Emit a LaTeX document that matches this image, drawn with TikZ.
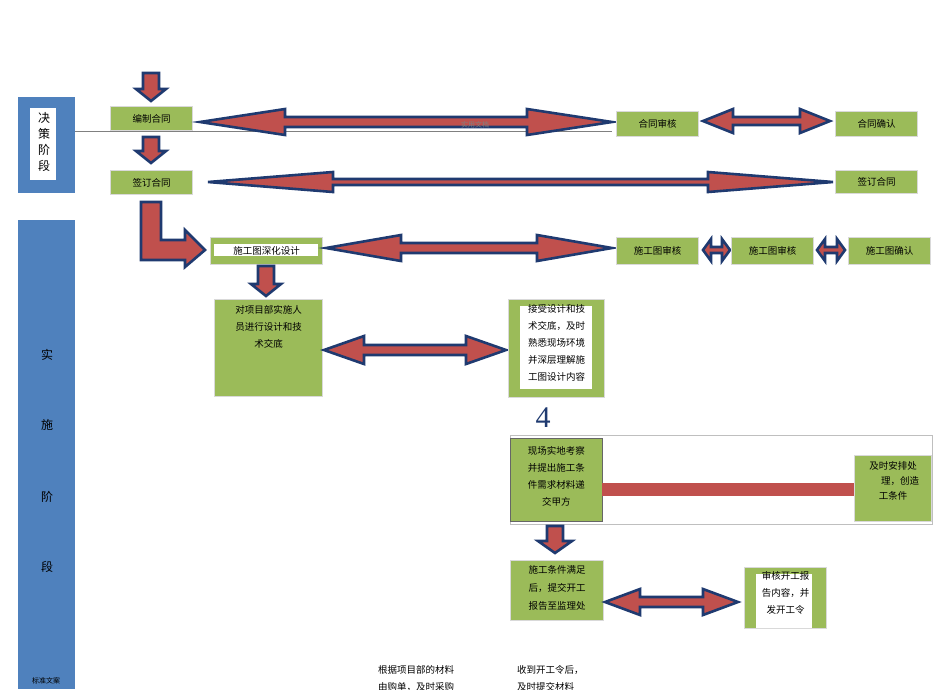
\documentclass[tikz,border=0pt]{standalone}
\usepackage{fontspec}
\setmainfont{Noto Sans CJK SC}
\newfontfamily\serifd{Liberation Serif}
\usetikzlibrary{calc}
\definecolor{gr}{HTML}{9BBB59}
\definecolor{rd}{HTML}{C0504D}
\definecolor{nv}{HTML}{1F3A70}
\definecolor{bl}{HTML}{4F81BD}
\tikzset{fat/.style={fill=rd,draw=nv,line width=2.6pt,line join=miter},
 gbox/.style={fill=gr,draw=black!15,line width=1pt},
 t/.style={font=\fontsize{9.5}{12}\selectfont,align=center,inner sep=0pt}}
\newcommand\harrow[6]{\filldraw[fat] (#1,#3) -- ({#1+#6},{#3-#5}) -- ({#1+#6},{#3-#4}) -- ({#2-#6},{#3-#4}) -- ({#2-#6},{#3-#5}) -- (#2,#3) -- ({#2-#6},{#3+#5}) -- ({#2-#6},{#3+#4}) -- ({#1+#6},{#3+#4}) -- ({#1+#6},{#3+#5}) -- cycle;}
\newcommand\darrow[6]{\filldraw[fat] (#1,#3) -- ({#1-#5},{#3-#6}) -- ({#1-#4},{#3-#6}) -- ({#1-#4},#2) -- ({#1+#4},#2) -- ({#1+#4},{#3-#6}) -- ({#1+#5},{#3-#6}) -- cycle;}
\begin{document}
\begin{tikzpicture}[x=1pt,y=-1pt]
\clip (0,0) rectangle (950,689);
\useasboundingbox (0,0) rectangle (950,689);
\fill[white] (0,0) rectangle (950,689);
% left bars
\fill[bl] (18,97) rectangle (75,193);
\fill[white] (30,108) rectangle (56,172);
\node[t,font=\fontsize{12}{16}\selectfont] (jc) at (44,142) {决\\策\\阶\\段};
\fill[white] (30,172) rectangle (56,180);
\fill[bl] (18,220) rectangle (75,689);
\node[t,font=\fontsize{12}{15}\selectfont] (s1) at (47,355) {实};
\node[t,font=\fontsize{12}{15}\selectfont] (s2) at (47,425) {施};
\node[t,font=\fontsize{12}{15}\selectfont] (s3) at (47,497) {阶};
\node[t,font=\fontsize{12}{15}\selectfont] (s4) at (47,567) {段};
\node[t,font=\fontsize{7}{8}\selectfont] (bz) at (46,681) {标准文案};
\draw[gray] (75,131) -- (612,131);
% row 1
\darrow{151}{73}{101}{8}{15}{12}
\node[gbox,minimum width=82,minimum height=24,anchor=north west,t] (a1) at (110,106) {编制合同};
\darrow{151}{137}{163}{8}{15}{12}
\node[gbox,minimum width=82,minimum height=24,anchor=north west,t] (a2) at (110,170) {签订合同};
\harrow{200}{612}{122}{5}{13}{85}
\node[t,font=\fontsize{7}{8}\selectfont,gray] (sy) at (475,125) {实用文档};
\node[gbox,minimum width=82,minimum height=25,anchor=north west,t] (b1) at (616,111) {合同审核};
\harrow{703}{830}{121}{4}{12}{30}
\node[gbox,minimum width=82,minimum height=25,anchor=north west,t] (c1) at (835,111) {合同确认};
% row 2
\harrow{208}{833}{182}{3}{10}{125}
\node[gbox,minimum width=82,minimum height=23,anchor=north west,t] (c2) at (835,170) {签订合同};
% L arrow
\filldraw[fat] (141,202) -- (161,202) -- (161,240) -- (185,240) -- (185,230) -- (205,250) -- (185,267) -- (185,260) -- (141,260) -- cycle;
\node[gbox,minimum width=112,minimum height=27,anchor=north west] (d1) at (210,237) {};
\fill[white] (214,244) rectangle (318,256);
\node[t] at (d1) {施工图深化设计};
\harrow{326}{612}{248}{5}{13}{75}
\node[gbox,minimum width=82,minimum height=27,anchor=north west,t] (e1) at (616,237) {施工图审核};
\harrow{703}{730}{250}{3}{11}{8}
\node[gbox,minimum width=82,minimum height=27,anchor=north west,t] (e2) at (731,237) {施工图审核};
\harrow{817}{845}{250}{3}{11}{8}
\node[gbox,minimum width=82,minimum height=27,anchor=north west,t] (e3) at (848,237) {施工图确认};
% row 4
\darrow{266}{266}{296}{8}{15}{12}
\node[gbox,minimum width=108,minimum height=97,anchor=north west] (f1) at (214,299) {};
\node[t,anchor=north,font=\fontsize{9.5}{17}\selectfont] at ($(f1.north)+(0,6)$) {对项目部实施人\\员进行设计和技\\术交底};
\harrow{324}{506}{350}{5}{14}{40}
\node[gbox,minimum width=96,minimum height=98,anchor=north west] (g1) at (508,299) {};
\fill[white] (520,306) rectangle (592,389);
\node[t,anchor=north,font=\fontsize{9.5}{17}\selectfont] at ($(g1.north)+(0,5)$) {接受设计和技\\术交底，及时\\熟悉现场环境\\并深层理解施\\工图设计内容};
\node[t,font=\fontsize{30}{30}\serifd\selectfont,text=nv] (four) at (543,418) {4};
% row 5
\draw[black!25] (510,435) rectangle (932,524);
\node[gbox,draw=black!60,line width=0.5pt,minimum width=92,minimum height=83,anchor=north west] (h1) at (510,438) {};
\node[t,anchor=north,font=\fontsize{9.5}{17}\selectfont] at ($(h1.north)+(0,8)$) {现场实地考察\\并提出施工条\\件需求材料递\\交甲方};
\fill[rd] (602,483) rectangle (855,496);
\node[gbox,minimum width=77,minimum height=66,anchor=north west] (h2) at (854,455) {};
\node[t,anchor=north,font=\fontsize{9.5}{15}\selectfont] at ($(h2.north)+(0,6)$) {及时安排处\\\hspace*{1.5em}理，创造\\工条件};
\darrow{555}{526}{553}{8}{17}{12}
\node[gbox,minimum width=93,minimum height=60,anchor=north west] (i1) at (510,560) {};
\node[t,anchor=north,font=\fontsize{9.5}{18}\selectfont] at ($(i1.north)+(0,5)$) {施工条件满足\\后，提交开工\\报告至监理处};
\harrow{605}{738}{602}{5}{13}{35}
\node[gbox,minimum width=82,minimum height=61,anchor=north west] (j1) at (744,567) {};
\fill[white] (756,574) rectangle (812,628);
\node[t,anchor=north,font=\fontsize{9.5}{17}\selectfont] at ($(j1.north)+(0,4)$) {审核开工报\\告内容，并\\发开工令};
% bottom texts
\node[t,anchor=north west,align=left,font=\fontsize{9.5}{17}\selectfont] (k1) at (378,665) {根据项目部的材料\\由购单，及时采购};
\node[t,anchor=north west,align=left,font=\fontsize{9.5}{17}\selectfont] (k2) at (517,665) {收到开工令后，\\及时提交材料};
\end{tikzpicture}
\end{document}
